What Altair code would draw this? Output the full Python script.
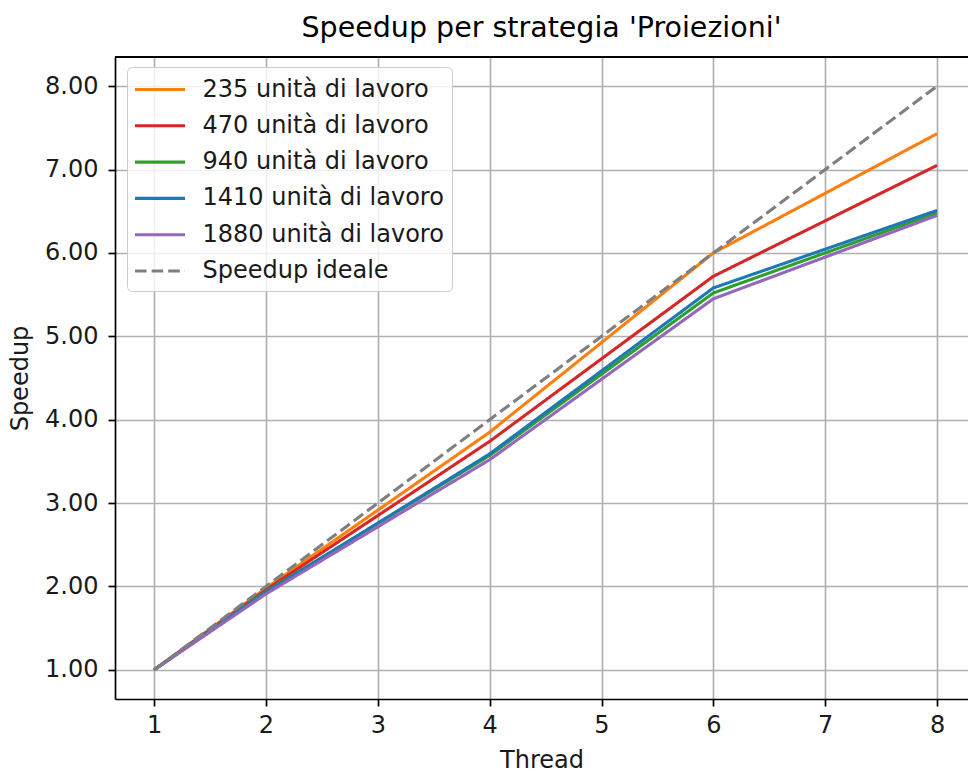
import altair as alt
import pandas as pd

threads = [1, 2, 4, 6, 8]
series_names = [
    "235 unità di lavoro",
    "470 unità di lavoro",
    "940 unità di lavoro",
    "1410 unità di lavoro",
    "1880 unità di lavoro",
    "Speedup ideale",
]
speedup_235 = [1.00, 1.98, 3.85, 6.00, 7.43]
speedup_470 = [1.00, 1.96, 3.74, 5.72, 7.05]
speedup_940 = [1.00, 1.94, 3.57, 5.52, 6.48]
speedup_1410 = [1.00, 1.93, 3.59, 5.58, 6.51]
speedup_1880 = [1.00, 1.91, 3.52, 5.45, 6.45]
speedup_ideal = [1, 2, 4, 6, 8]
colors = ["#ff7f0e", "#d62728", "#2ca02c", "#1f77b4", "#9467bd", "#7f7f7f"]
dashes = [[1, 0], [1, 0], [1, 0], [1, 0], [1, 0], [11.6, 5]]

all_series = [speedup_235, speedup_470, speedup_940, speedup_1410, speedup_1880, speedup_ideal]
rows = []
for k, (name, vals) in enumerate(zip(series_names, all_series)):
    for t, v in zip(threads, vals):
        rows.append({"Thread": t, "Speedup": v, "Serie": name, "k": k})
df = pd.DataFrame(rows)

FONT = "DejaVu Sans"
W, H = 853, 642
FS = 24

lines = alt.Chart(df).mark_line(strokeWidth=3.1, clip=True).encode(
    x=alt.X("Thread:Q",
            scale=alt.Scale(domain=[0.65, 8.277], nice=False, zero=False),
            axis=alt.Axis(values=[1, 2, 3, 4, 5, 6, 7, 8], format="d", title="Thread",
                          labelPadding=7, titlePadding=11)),
    y=alt.Y("Speedup:Q",
            scale=alt.Scale(domain=[0.65, 8.35], nice=False, zero=False),
            axis=alt.Axis(values=[1, 2, 3, 4, 5, 6, 7, 8], format=".2f", title="Speedup",
                          labelPadding=10, titlePadding=12)),
    color=alt.Color("Serie:N",
                    scale=alt.Scale(domain=series_names, range=colors),
                    legend=alt.Legend(title=None, orient="none", legendX=12, legendY=10,
                                      symbolType="M-2,0L2,0", symbolSize=625,
                                      symbolStrokeWidth=3.1, labelFontSize=FS,
                                      symbolOffset=10.5,
                                      labelFont=FONT, labelColor="#1a1a1a",
                                      labelOffset=28, rowPadding=9.3, labelLimit=0,
                                      padding=8, fillColor="rgba(255,255,255,0.8)",
                                      strokeColor="#cccccc", cornerRadius=5)),
    strokeDash=alt.StrokeDash("Serie:N",
                              scale=alt.Scale(domain=series_names, range=dashes),
                              legend=alt.Legend(title=None, orient="none", legendX=12, legendY=10)),
    detail="k:O",
)

top_spine = alt.Chart(df).mark_rule(color="black", strokeWidth=1.7).encode(
    x=alt.value(0), x2=alt.value(W), y=alt.value(0)
)

chart = alt.layer(lines, top_spine).properties(
    width=W, height=H,
    title=alt.TitleParams("Speedup per strategia 'Proiezioni'", fontSize=28.5, font=FONT,
                          fontWeight="normal", anchor="middle", offset=14, color="black"),
    padding={"left": 115, "top": 57, "right": 0, "bottom": 73},
    autosize=alt.AutoSizeParams(type="none"),
).configure_view(stroke=None).configure_axis(
    labelFont=FONT, titleFont=FONT, labelFontSize=FS, titleFontSize=FS,
    labelColor="#1a1a1a", titleColor="#1a1a1a", titleFontWeight="normal",
    domainColor="black", domainWidth=1.7, tickColor="black", tickWidth=1.7, tickSize=7,
    gridColor="#b0b0b0", gridWidth=1.7, grid=True,
)

chart.save("out.html", embed_options={"renderer": "svg", "actions": False})
